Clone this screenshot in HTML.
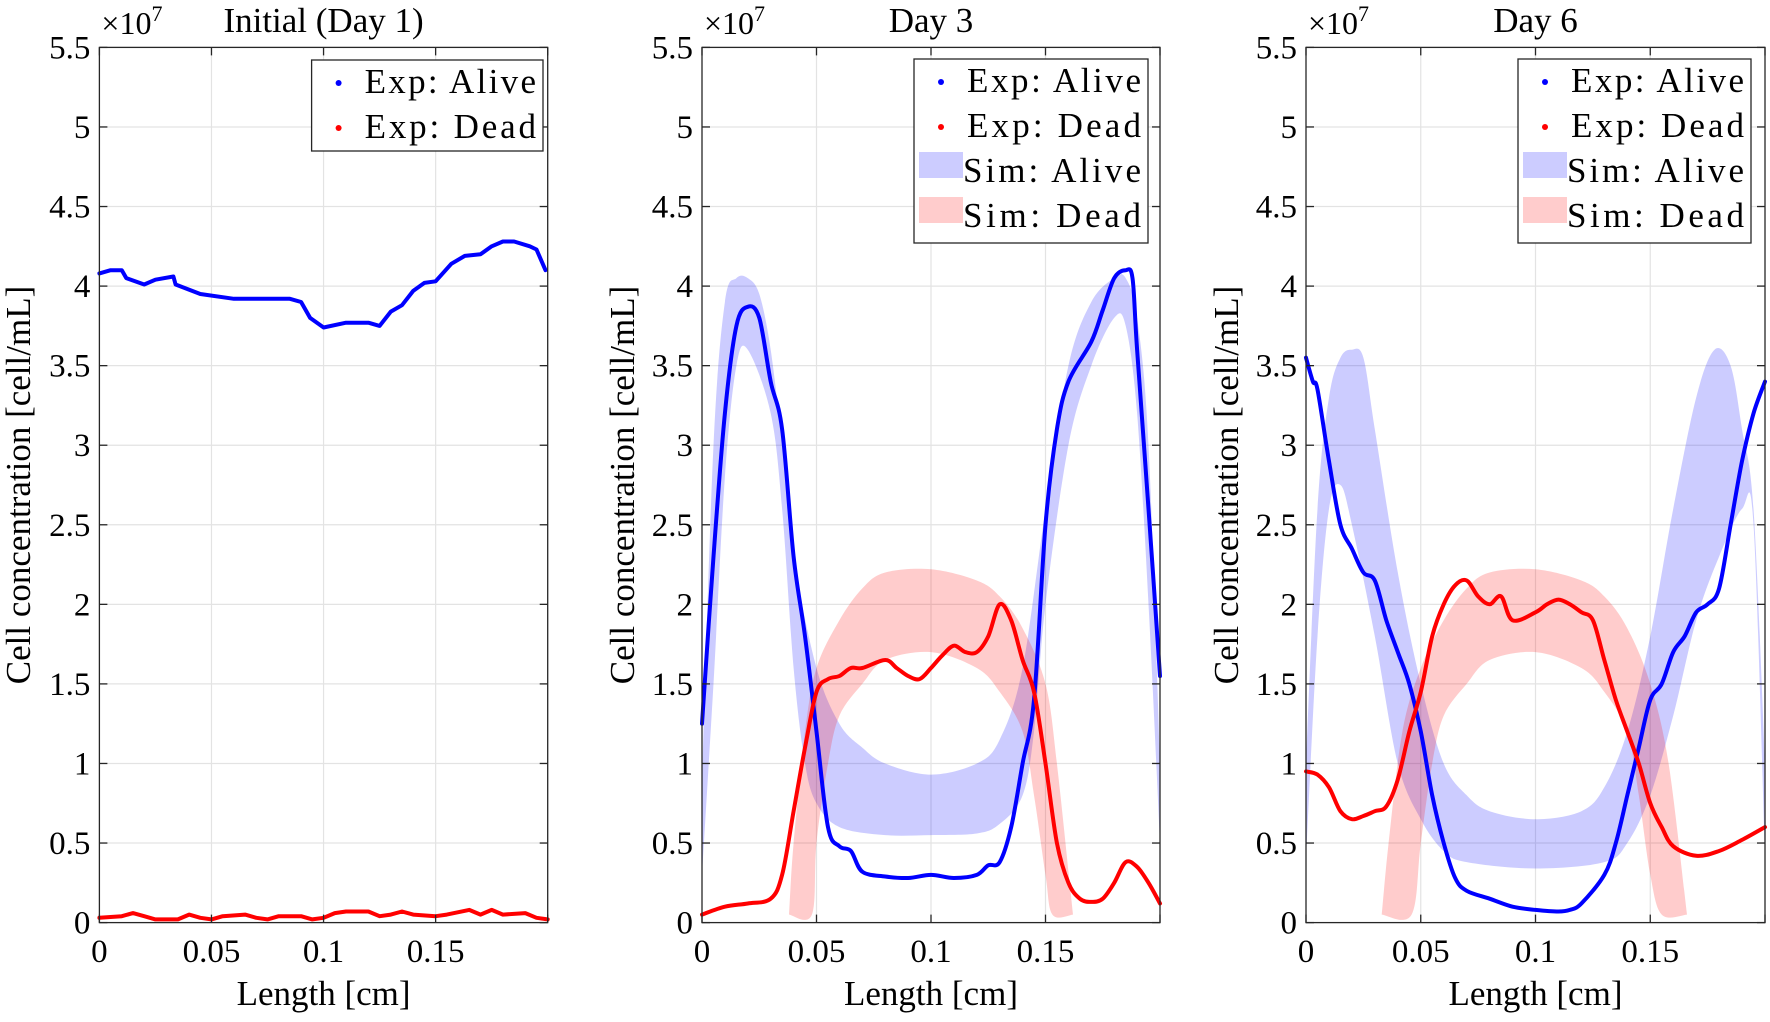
<!DOCTYPE html>
<html><head><meta charset="utf-8"><style>
html,body{margin:0;padding:0;background:#fff;}
svg{display:block;font-family:"Liberation Serif",serif;}
</style></head><body>
<svg id="s" width="1770" height="1022" viewBox="0 0 1770 1022" xmlns="http://www.w3.org/2000/svg"></svg>
<script>
const S=document.getElementById('s');let h='';
const T=47.4,B=922.6;
const panels=[
 {L:99.4,R:547.7,title:'Initial (Day 1)',leg:[311.6,60,543,151],ylx:19},
 {L:702,R:1160,title:'Day 3',leg:[914,59,1148,243],ylx:623},
 {L:1306,R:1765,title:'Day 6',leg:[1518,59,1751,243],ylx:1227}];
function P(p,x,y){return [p.L+x/0.2*(p.R-p.L),B-y/5.5*(B-T)];}
function arr(p,a){let r=[];for(let i=0;i<a.length;i+=2)r.push(P(p,a[i],a[i+1]));return r;}
function cr(q,start){let s=start?`M${q[0][0].toFixed(1)},${q[0][1].toFixed(1)}`:`L${q[0][0].toFixed(1)},${q[0][1].toFixed(1)}`;
 for(let i=0;i<q.length-1;i++){const p0=q[Math.max(i-1,0)],p1=q[i],p2=q[i+1],p3=q[Math.min(i+2,q.length-1)];
  const c1=[p1[0]+(p2[0]-p0[0])/6,p1[1]+(p2[1]-p0[1])/6],c2=[p2[0]-(p3[0]-p1[0])/6,p2[1]-(p3[1]-p1[1])/6];
  s+=`C${c1[0].toFixed(1)},${c1[1].toFixed(1)} ${c2[0].toFixed(1)},${c2[1].toFixed(1)} ${p2[0].toFixed(1)},${p2[1].toFixed(1)}`;}
 return s;}
function line(p,a,c,sm){const q=arr(p,a);h+=`<path d="${sm?cr(q,1):'M'+q.map(v=>v[0].toFixed(1)+','+v[1].toFixed(1)).join(' L')}" fill="none" stroke="${c}" stroke-width="4" stroke-linejoin="round" stroke-linecap="round"/>`;}
function band(p,up,lo,c){const u=arr(p,up),l=arr(p,lo).reverse();h+=`<path d="${cr(u,1)} ${cr(l,0)} Z" fill="${c}" stroke="none"/>`;}
function axes(p){
 for(let i=1;i<4;i++){let x=p.L+i*(p.R-p.L)/4;h+=`<line x1="${x}" y1="${T}" x2="${x}" y2="${B}" stroke="#e3e3e3" stroke-width="1.2"/>`;}
 for(let i=1;i<11;i++){let y=B-i*(B-T)/11;h+=`<line x1="${p.L}" y1="${y}" x2="${p.R}" y2="${y}" stroke="#e3e3e3" stroke-width="1.2"/>`;}
}
function frame(p){
 h+=`<rect x="${p.L}" y="${T}" width="${p.R-p.L}" height="${B-T}" fill="none" stroke="#262626" stroke-width="1.3"/>`;
 const xl=['0','0.05','0.1','0.15'];
 for(let i=0;i<5;i++){let x=p.L+i*(p.R-p.L)/4;h+=`<line x1="${x}" y1="${B}" x2="${x}" y2="${B-8}" stroke="#262626" stroke-width="1.3"/><line x1="${x}" y1="${T}" x2="${x}" y2="${T+8}" stroke="#262626" stroke-width="1.3"/>`;
  if(i<4)h+=`<text x="${x}" y="962" font-size="33" text-anchor="middle">${xl[i]}</text>`;}
 for(let i=0;i<12;i++){let y=B-i*(B-T)/11;let v=(i*0.5).toString();h+=`<line x1="${p.L}" y1="${y}" x2="${p.L+8}" y2="${y}" stroke="#262626" stroke-width="1.3"/><line x1="${p.R}" y1="${y}" x2="${p.R-8}" y2="${y}" stroke="#262626" stroke-width="1.3"/><text x="${p.L-9}" y="${y+11}" font-size="33" text-anchor="end">${v}</text>`;}
 h+=`<text x="${(p.L+p.R)/2}" y="32" font-size="35" text-anchor="middle">${p.title}</text>`;
 h+=`<text x="${p.L+2}" y="34" font-size="32">×10<tspan font-size="22" dy="-13">7</tspan></text>`;
 h+=`<text x="${(p.L+p.R)/2}" y="1005" font-size="35" text-anchor="middle">Length [cm]</text>`;
 h+=`<text transform="translate(${p.ylx+11},${(T+B)/2}) rotate(-90)" font-size="35" text-anchor="middle">Cell concentration [cell/mL]</text>`;
 const [x1,y1,x2,y2]=p.leg;
 h+=`<rect x="${x1}" y="${y1}" width="${x2-x1}" height="${y2-y1}" fill="#fff" stroke="#262626" stroke-width="1.3"/>`;
 const lab=['Exp: Alive','Exp: Dead','Sim: Alive','Sim: Dead'];
 const n=(y2-y1)>120?4:2;
 for(let i=0;i<n;i++){let by=y1+33+i*45;
  if(i<2)h+=`<circle cx="${x1+27}" cy="${by-10}" r="3" fill="${i?'#f00':'#00f'}"/>`;
  else h+=`<rect x="${x1+5}" y="${by-30}" width="44" height="26" fill="${i==2?'#ccccff':'#ffcccc'}"/>`;
  h+=`<text x="${x1+(i<2?53:49)}" y="${by}" font-size="35" xml:space="preserve" textLength="${x2-x1-(i<2?60:56)}" lengthAdjust="spacing">${lab[i]}</text>`;}
}
panels.forEach(axes);
const p1=panels[0],p2=panels[1],p3=panels[2];
line(p1,[0,4.08,0.005,4.1,0.01,4.1,0.012,4.05,0.02,4.01,0.025,4.04,0.033,4.06,0.034,4.01,0.045,3.95,0.06,3.92,0.085,3.92,0.09,3.9,0.094,3.8,0.1,3.74,0.11,3.77,0.12,3.77,0.125,3.75,0.13,3.84,0.135,3.88,0.14,3.97,0.145,4.02,0.15,4.03,0.157,4.14,0.163,4.19,0.17,4.2,0.175,4.25,0.18,4.28,0.185,4.28,0.192,4.25,0.195,4.23,0.199,4.1],'#0000ff');
line(p1,[0,0.03,0.01,0.04,0.015,0.06,0.02,0.04,0.025,0.02,0.035,0.02,0.04,0.05,0.045,0.03,0.05,0.02,0.055,0.04,0.065,0.05,0.07,0.03,0.075,0.02,0.08,0.04,0.09,0.04,0.095,0.02,0.1,0.03,0.105,0.06,0.11,0.07,0.12,0.07,0.125,0.04,0.13,0.05,0.135,0.07,0.14,0.05,0.15,0.04,0.155,0.05,0.165,0.08,0.17,0.05,0.175,0.08,0.18,0.05,0.19,0.06,0.195,0.03,0.2,0.02],'#ff0000');
band(p2,[0,0.9,0.005,3.0,0.01,3.9,0.015,4.05,0.02,4.05,0.025,3.95,0.03,3.6,0.035,3.0,0.04,2.3,0.05,1.6,0.06,1.25,0.07,1.1,0.08,1.0,0.1,0.93,0.12,1.0,0.13,1.15,0.14,1.6,0.15,2.6,0.16,3.5,0.17,3.9,0.18,4.05,0.185,4.05,0.19,3.8,0.195,3.0,0.2,1.0],
 [0,0.3,0.005,1.5,0.01,2.8,0.015,3.5,0.02,3.6,0.03,3.2,0.035,2.6,0.04,1.6,0.045,1.0,0.05,0.75,0.06,0.6,0.08,0.55,0.1,0.55,0.12,0.56,0.13,0.62,0.14,0.8,0.145,1.2,0.15,2.0,0.16,3.0,0.17,3.5,0.18,3.8,0.185,3.75,0.19,3.2,0.195,2.0,0.2,0.5],'rgba(0,0,255,0.2)');
band(p2,[0.038,0.05,0.04,0.5,0.045,1.2,0.05,1.6,0.06,1.9,0.07,2.1,0.08,2.2,0.1,2.22,0.12,2.15,0.13,2.05,0.14,1.85,0.15,1.5,0.155,1.0,0.162,0.05],
 [0.038,0.05,0.048,0.05,0.05,0.5,0.055,1.0,0.06,1.3,0.07,1.5,0.08,1.65,0.1,1.7,0.12,1.6,0.13,1.45,0.14,1.2,0.145,0.8,0.15,0.3,0.153,0.05,0.162,0.05],'rgba(255,0,0,0.2)');
line(p2,[0,1.25,0.005,2.3,0.01,3.2,0.015,3.75,0.02,3.87,0.025,3.8,0.03,3.4,0.035,3.1,0.04,2.3,0.045,1.8,0.05,1.2,0.055,0.6,0.06,0.48,0.065,0.45,0.07,0.32,0.08,0.29,0.09,0.28,0.1,0.3,0.11,0.28,0.12,0.3,0.125,0.36,0.13,0.38,0.135,0.6,0.14,1.0,0.145,1.4,0.15,2.5,0.155,3.1,0.16,3.4,0.17,3.65,0.175,3.85,0.18,4.05,0.185,4.1,0.188,4.05,0.19,3.6,0.195,2.6,0.2,1.55],'#0000ff',1);
line(p2,[0,0.05,0.01,0.1,0.02,0.12,0.03,0.15,0.035,0.3,0.04,0.7,0.045,1.1,0.05,1.45,0.055,1.53,0.06,1.55,0.065,1.6,0.07,1.6,0.08,1.65,0.085,1.6,0.09,1.55,0.095,1.53,0.1,1.6,0.105,1.68,0.11,1.74,0.115,1.7,0.12,1.7,0.125,1.8,0.13,2.0,0.135,1.9,0.14,1.65,0.145,1.45,0.15,1.0,0.155,0.5,0.16,0.25,0.165,0.15,0.17,0.13,0.175,0.15,0.18,0.25,0.185,0.38,0.19,0.35,0.195,0.25,0.2,0.12],'#ff0000',1);
band(p3,[0,1.0,0.005,2.6,0.01,3.3,0.015,3.55,0.02,3.6,0.025,3.55,0.03,3.1,0.04,2.2,0.05,1.5,0.06,1.0,0.07,0.8,0.08,0.7,0.1,0.65,0.12,0.7,0.13,0.85,0.14,1.2,0.15,1.8,0.16,2.6,0.17,3.3,0.178,3.6,0.185,3.5,0.19,3.1,0.195,2.6,0.2,1.0],
 [0,0.4,0.005,1.8,0.01,2.6,0.015,2.75,0.02,2.5,0.03,1.8,0.04,1.0,0.05,0.65,0.06,0.45,0.07,0.38,0.1,0.34,0.13,0.38,0.14,0.5,0.15,0.8,0.16,1.3,0.17,1.9,0.18,2.3,0.19,2.6,0.195,2.5,0.2,0.4],'rgba(0,0,255,0.2)');
band(p3,[0.033,0.05,0.036,0.5,0.042,1.2,0.05,1.6,0.06,1.9,0.07,2.1,0.08,2.2,0.1,2.22,0.12,2.15,0.13,2.05,0.14,1.85,0.15,1.5,0.158,1.0,0.166,0.05],
 [0.033,0.05,0.046,0.05,0.05,0.5,0.055,1.0,0.06,1.3,0.07,1.5,0.08,1.65,0.1,1.7,0.12,1.6,0.13,1.45,0.14,1.2,0.145,0.8,0.15,0.3,0.155,0.05,0.166,0.05],'rgba(255,0,0,0.2)');
line(p3,[0,3.55,0.003,3.4,0.005,3.35,0.01,2.9,0.015,2.5,0.02,2.35,0.025,2.2,0.03,2.15,0.035,1.9,0.04,1.7,0.045,1.5,0.05,1.2,0.055,0.8,0.06,0.5,0.065,0.28,0.07,0.2,0.08,0.15,0.09,0.1,0.1,0.08,0.11,0.07,0.115,0.08,0.12,0.12,0.13,0.3,0.135,0.5,0.14,0.8,0.145,1.1,0.15,1.4,0.155,1.5,0.16,1.7,0.165,1.8,0.17,1.95,0.175,2.0,0.18,2.1,0.185,2.5,0.19,2.9,0.195,3.2,0.2,3.4],'#0000ff',1);
line(p3,[0,0.95,0.005,0.93,0.01,0.85,0.015,0.7,0.02,0.65,0.025,0.67,0.03,0.7,0.035,0.73,0.04,0.9,0.045,1.2,0.05,1.45,0.055,1.8,0.06,2.0,0.065,2.12,0.07,2.15,0.075,2.05,0.08,2.0,0.085,2.05,0.09,1.9,0.1,1.95,0.105,2.0,0.11,2.03,0.115,2.0,0.12,1.95,0.125,1.9,0.13,1.65,0.135,1.4,0.14,1.2,0.145,1.0,0.15,0.75,0.155,0.6,0.16,0.48,0.17,0.42,0.18,0.45,0.19,0.52,0.2,0.6],'#ff0000',1);
panels.forEach(frame);
S.innerHTML=h;
</script>
</body></html>
